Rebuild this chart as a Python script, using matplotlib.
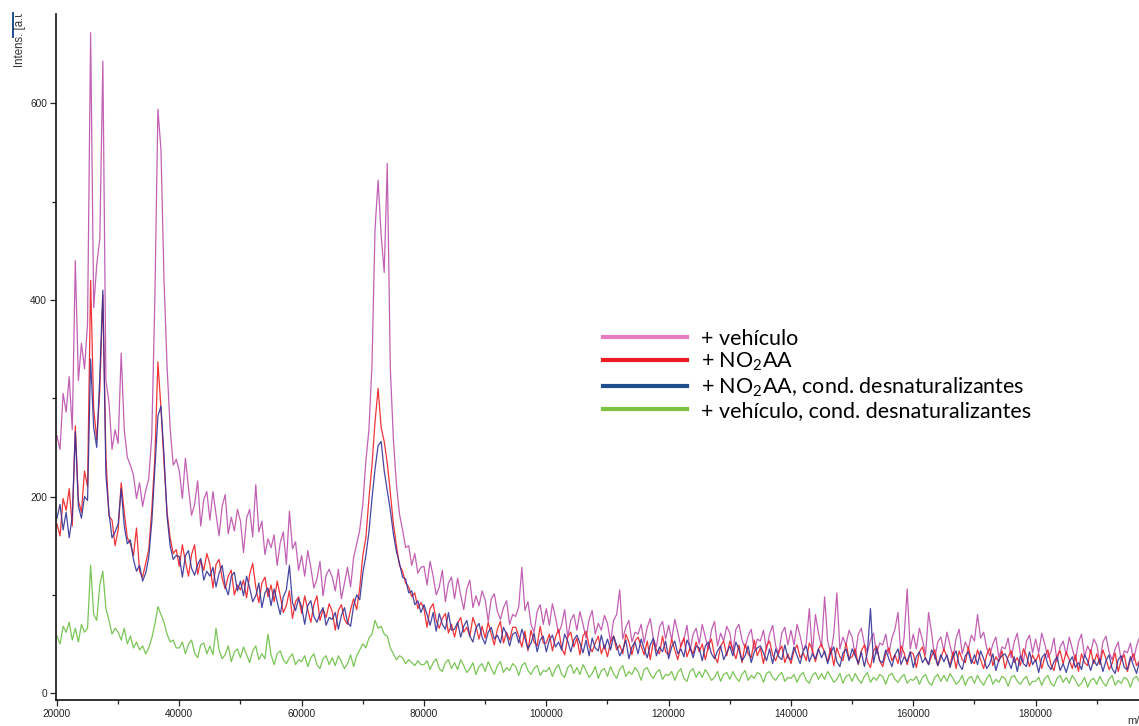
import numpy as np
import matplotlib
matplotlib.use("Agg")
import matplotlib.pyplot as plt
from matplotlib.lines import Line2D
from matplotlib.ticker import MultipleLocator, FormatStrFormatter
from matplotlib.transforms import Bbox, TransformedBbox

plt.rcParams["font.family"] = ["Liberation Sans", "DejaVu Sans"]
plt.rcParams["mathtext.default"] = "regular"

# m/z grid, one reading every 500 Da
mz_start, mz_stop, mz_step = 20000, 197000, 500
mz = np.arange(mz_start, mz_stop + 1, mz_step)

# intensities (a.u.), rows of 10 points = 5000 Da
vehiculo = [
    262, 248, 305, 286, 322, 268, 440, 318, 356, 330,
    376, 672, 392, 436, 462, 643, 318, 296, 248, 268,
    254, 346, 268, 240, 232, 222, 198, 214, 190, 206,
    218, 262, 400, 594, 553, 420, 332, 270, 232, 238,
    226, 198, 239, 209, 181, 192, 216, 170, 197, 205,
    176, 205, 182, 160, 190, 202, 162, 179, 165, 187,
    175, 143, 178, 187, 159, 212, 164, 175, 141, 157,
    148, 161, 130, 153, 164, 131, 185, 147, 154, 125,
    140, 119, 145, 128, 107, 116, 134, 99, 120, 126,
    118, 104, 126, 96, 112, 128, 108, 138, 152, 166,
    192, 236, 268, 334, 472, 522, 466, 428, 539, 330,
    258, 212, 182, 166, 148, 150, 130, 142, 122, 128,
    129, 110, 134, 119, 100, 108, 125, 93, 112, 118,
    96, 117, 100, 85, 106, 115, 87, 99, 89, 104,
    95, 73, 96, 101, 83, 75, 87, 94, 70, 80,
    78, 88, 128, 84, 93, 70, 62, 83, 90, 70,
    86, 69, 91, 77, 61, 69, 85, 57, 74, 80,
    64, 83, 70, 56, 75, 84, 60, 71, 64, 79,
    71, 52, 74, 80, 105, 55, 67, 74, 52, 62,
    60, 70, 51, 67, 76, 55, 47, 67, 73, 55,
    69, 54, 75, 62, 47, 55, 69, 43, 60, 66,
    50, 70, 57, 44, 64, 73, 48, 61, 53, 68,
    61, 42, 65, 70, 54, 46, 58, 65, 44, 55,
    53, 64, 44, 60, 69, 48, 40, 61, 67, 49,
    64, 49, 70, 58, 43, 51, 86, 40, 80, 61,
    47, 98, 53, 40, 60, 102, 45, 57, 49, 64,
    57, 38, 60, 66, 50, 42, 54, 61, 40, 51,
    49, 60, 40, 56, 65, 82, 36, 57, 106, 45,
    60, 45, 66, 54, 39, 82, 61, 35, 52, 57,
    43, 62, 49, 36, 56, 65, 40, 52, 45, 59,
    53, 80, 56, 62, 46, 38, 50, 57, 36, 47,
    45, 56, 36, 52, 61, 40, 32, 53, 59, 41,
    55, 41, 61, 50, 36, 42, 56, 32, 47, 53,
    39, 57, 45, 33, 52, 60, 37, 48, 41, 55,
    49, 31, 52, 58, 42, 34, 45, 52, 33, 43,
    41, 51, 33, 48, 57,
]

no2aa = [
    172, 160, 198, 186, 208, 170, 272, 196, 184, 226,
    210, 420, 290, 258, 308, 405, 240, 180, 176, 150,
    166, 214, 184, 158, 152, 140, 168, 124, 118, 132,
    146, 186, 240, 337, 290, 234, 184, 158, 142, 146,
    129, 151, 134, 119, 141, 151, 121, 135, 125, 142,
    131, 107, 131, 136, 117, 106, 119, 125, 100, 110,
    105, 115, 97, 121, 132, 108, 92, 112, 118, 98,
    110, 93, 114, 99, 82, 89, 104, 76, 93, 98,
    81, 99, 85, 72, 90, 99, 74, 85, 77, 91,
    83, 64, 84, 90, 75, 70, 85, 96, 85, 107,
    140, 158, 198, 232, 276, 310, 270, 256, 234, 204,
    172, 150, 130, 124, 112, 108, 98, 102, 86, 92,
    86, 67, 86, 91, 74, 66, 76, 81, 61, 70,
    57, 71, 77, 62, 67, 58, 77, 68, 55, 68,
    56, 72, 60, 49, 65, 73, 51, 62, 54, 67,
    67, 58, 47, 63, 43, 64, 52, 48, 68, 51,
    51, 60, 43, 57, 65, 46, 39, 57, 62, 47,
    56, 39, 58, 63, 48, 42, 51, 58, 40, 49,
    37, 52, 58, 44, 49, 40, 60, 52, 39, 53,
    57, 48, 39, 53, 34, 53, 44, 40, 58, 42,
    39, 55, 44, 34, 49, 56, 37, 46, 40, 52,
    42, 50, 34, 48, 55, 38, 31, 48, 53, 38,
    53, 44, 35, 49, 31, 50, 40, 36, 54, 38,
    46, 30, 48, 53, 39, 33, 42, 48, 31, 40,
    30, 43, 49, 36, 41, 33, 51, 44, 32, 45,
    50, 41, 32, 46, 28, 46, 37, 33, 51, 35,
    37, 45, 29, 43, 49, 32, 26, 43, 48, 33,
    27, 40, 46, 33, 39, 30, 48, 41, 29, 42,
    40, 26, 42, 47, 35, 29, 38, 44, 28, 36,
    45, 37, 28, 42, 25, 43, 34, 31, 47, 33,
    30, 44, 34, 25, 39, 46, 28, 37, 32, 43,
    25, 37, 43, 31, 36, 28, 45, 38, 27, 39,
    32, 40, 25, 37, 44, 29, 23, 38, 43, 30,
    42, 34, 25, 39, 22, 40, 31, 28, 44, 30,
    40, 29, 44, 35, 24, 30, 41, 22, 34, 39,
    22, 34, 40, 28, 33,
]

no2aa_desnat = [
    178, 192, 166, 184, 158, 180, 266, 190, 178, 200,
    196, 340, 270, 250, 322, 410, 222, 184, 158, 164,
    172, 208, 170, 152, 156, 136, 124, 130, 114, 122,
    138, 174, 228, 282, 292, 242, 180, 150, 136, 140,
    139, 118, 140, 145, 127, 120, 131, 137, 115, 124,
    119, 128, 108, 122, 130, 109, 100, 119, 123, 104,
    114, 99, 119, 107, 93, 99, 112, 87, 102, 107,
    89, 106, 93, 80, 98, 105, 130, 92, 84, 96,
    88, 70, 89, 94, 78, 72, 81, 87, 69, 77,
    75, 82, 65, 79, 87, 72, 68, 89, 100, 95,
    122, 140, 164, 198, 228, 252, 256, 226, 206, 186,
    162, 144, 132, 118, 116, 102, 104, 90, 94, 82,
    90, 80, 69, 82, 63, 81, 70, 65, 82, 64,
    65, 72, 57, 68, 74, 58, 52, 66, 71, 57,
    50, 62, 67, 55, 59, 51, 67, 60, 48, 60,
    62, 51, 65, 56, 45, 51, 61, 42, 54, 58,
    42, 54, 59, 47, 52, 44, 60, 53, 42, 54,
    59, 51, 41, 54, 38, 56, 46, 43, 59, 45,
    55, 44, 58, 49, 38, 44, 54, 35, 47, 52,
    40, 55, 45, 36, 49, 56, 38, 47, 42, 53,
    35, 47, 53, 40, 45, 37, 54, 47, 36, 48,
    46, 33, 48, 52, 40, 35, 43, 48, 34, 41,
    48, 38, 52, 44, 33, 38, 48, 31, 42, 46,
    48, 41, 33, 45, 30, 45, 37, 34, 49, 36,
    34, 47, 38, 30, 43, 48, 32, 40, 35, 45,
    36, 43, 30, 41, 47, 32, 27, 41, 45, 33,
    45, 38, 30, 42, 27, 42, 86, 31, 46, 33,
    31, 44, 35, 27, 39, 45, 29, 37, 32, 42,
    26, 37, 42, 31, 36, 29, 44, 38, 28, 39,
    32, 39, 26, 37, 43, 29, 24, 38, 42, 30,
    39, 29, 43, 35, 25, 30, 40, 23, 34, 38,
    40, 33, 25, 37, 22, 38, 30, 27, 42, 29,
    34, 21, 36, 40, 29, 24, 32, 37, 23, 30,
    21, 32, 37, 26, 31, 24, 39, 33, 23, 34,
    28, 35, 22, 33, 39, 25, 20, 34, 38, 26,
    24, 37, 28, 20, 33,
]

vehiculo_desnat = [
    58, 50, 68, 62, 72, 54, 66, 52, 70, 62,
    66, 130, 80, 74, 110, 124, 86, 74, 60, 66,
    62, 54, 66, 50, 58, 46, 52, 44, 48, 40,
    46, 56, 70, 88, 80, 72, 60, 52, 54, 46,
    46, 52, 40, 50, 54, 41, 36, 49, 51, 40,
    48, 39, 66, 44, 35, 39, 48, 32, 42, 45,
    36, 47, 39, 31, 43, 48, 34, 40, 35, 60,
    39, 29, 40, 43, 34, 30, 36, 40, 29, 34,
    32, 38, 27, 36, 40, 29, 25, 35, 38, 29,
    36, 28, 38, 32, 25, 30, 39, 27, 38, 44,
    50, 46, 56, 60, 74, 66, 68, 60, 58, 46,
    40, 34, 38, 36, 30, 34, 31, 28, 33, 29,
    29, 33, 24, 31, 35, 25, 22, 31, 34, 25,
    31, 24, 34, 28, 21, 25, 31, 19, 27, 30,
    22, 32, 25, 19, 28, 32, 21, 26, 23, 30,
    27, 18, 28, 31, 23, 19, 25, 28, 18, 23,
    22, 26, 17, 25, 29, 19, 16, 26, 29, 20,
    26, 19, 29, 23, 16, 20, 27, 15, 23, 25,
    17, 27, 20, 15, 24, 28, 17, 22, 19, 26,
    22, 13, 24, 26, 19, 15, 21, 24, 14, 19,
    18, 22, 13, 21, 25, 15, 12, 22, 25, 16,
    22, 16, 24, 19, 13, 16, 22, 12, 19, 21,
    14, 22, 16, 12, 19, 23, 13, 18, 15, 21,
    19, 11, 20, 22, 16, 13, 18, 21, 12, 16,
    15, 19, 11, 18, 21, 13, 10, 18, 21, 14,
    20, 14, 22, 17, 11, 14, 20, 10, 17, 19,
    12, 20, 14, 10, 17, 21, 11, 16, 13, 19,
    17, 9, 18, 20, 14, 11, 16, 19, 10, 14,
    13, 17, 9, 16, 19, 11, 8, 16, 19, 12,
    18, 12, 20, 15, 9, 12, 18, 8, 15, 17,
    10, 18, 12, 8, 15, 19, 9, 14, 11, 17,
    15, 7, 16, 18, 12, 9, 14, 17, 8, 12,
    12, 16, 8, 15, 18, 10, 7, 15, 18, 11,
    16, 10, 18, 13, 7, 10, 16, 6, 13, 15,
    9, 17, 11, 7, 14, 18, 8, 13, 10, 16,
    14, 6, 15, 17, 11,
]

series = [
    ("+ vehículo", vehiculo, "#BC4FAB", "#E57CC0"),
    ("+ NO$_2$AA", no2aa, "#F01E23", "#ED1C24"),
    ("+ NO$_2$AA, cond. desnaturalizantes", no2aa_desnat, "#333399", "#1F4E8C"),
    ("+ vehículo, cond. desnaturalizantes", vehiculo_desnat, "#6CBF45", "#7DC242"),
]

W, H = 1139, 726
fig = plt.figure(figsize=(W / 100, H / 100), dpi=100)
ax = fig.add_axes([56 / W, 1 - 700 / H, 1 - 56 / W, 686 / H])

handles, labels = [], []
for label, vals, c_line, c_leg in series:
    ax.plot(mz, vals, color=c_line, lw=0.9, alpha=0.9)
    handles.append(Line2D([], [], color=c_leg, lw=3))
    labels.append(label)

ax.set_xlim(19840, 196900)
ax.set_ylim(-7, 691)

ax.xaxis.set_major_locator(MultipleLocator(20000))
ax.xaxis.set_minor_locator(MultipleLocator(10000))
ax.yaxis.set_major_locator(MultipleLocator(200))
ax.yaxis.set_minor_locator(MultipleLocator(100))
ax.xaxis.set_major_formatter(FormatStrFormatter("%d"))
ax.yaxis.set_major_formatter(FormatStrFormatter("%d"))
ax.tick_params(which="major", length=4, width=0.9, labelsize=7.3,
               colors="#222222", pad=2.5)
ax.tick_params(which="minor", length=3, width=0.9, colors="#222222")

for side in ("top", "right"):
    ax.spines[side].set_visible(False)
for side in ("left", "bottom"):
    ax.spines[side].set_linewidth(1.2)
    ax.spines[side].set_color("#111111")

leg = ax.legend(handles, labels, loc="upper left", bbox_to_anchor=(0.505, 0.541),
                frameon=False, borderpad=0, borderaxespad=0,
                handlelength=3.9, handletextpad=0.65, labelspacing=0.1,
                prop={"family": "Lato", "size": 15.5})

# axis captions, clipped like the instrument export
ylab = fig.text(20 / W, 1 - 67 / H, "Intens. [a.u.]", rotation=90,
                ha="center", va="bottom", fontsize=8.3, color="#333333")
ylab.set_clip_box(TransformedBbox(Bbox([[0, 0], [0.05, 1 - 14 / H]]), fig.transFigure))
ylab.set_clip_on(True)
fig.add_artist(Line2D([12.5 / W, 12.5 / W], [1 - 13 / H, 1 - 37 / H],
                      color="#1F4E8C", lw=1.4))
fig.text(1127 / W, 1 - 724 / H, "m/z", fontsize=8, color="#333333")

fig.savefig("out.png", dpi=100)
